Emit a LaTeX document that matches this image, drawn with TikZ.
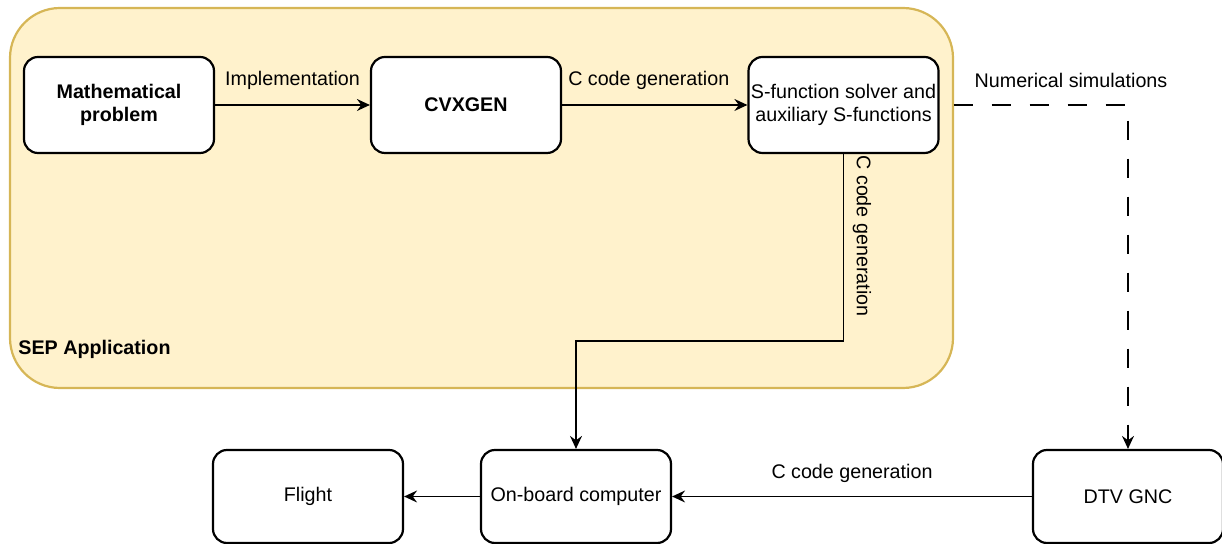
\documentclass[tikz,border=0pt]{standalone}
\usepackage{fontspec}
\setmainfont{Liberation Sans}
\usetikzlibrary{arrows.meta}
\definecolor{sepfill}{HTML}{FFF2CC}
\definecolor{sepdraw}{HTML}{D6B656}
\begin{document}
\begin{tikzpicture}[x=0.5pt,y=-0.5pt,
  txt/.style={font=\fontsize{9.85}{11.5}\selectfont},
  box/.style={txt, draw, line width=1.1pt, rounded corners=7pt, fill=white,
    minimum width=95pt, minimum height=48pt, align=center, inner sep=1pt},
  lowbox/.style={box, minimum height=46.5pt},
  conn/.style={line width=0.65pt, -{Stealth[length=6.5pt,width=6pt,inset=2.2pt]}},
  dconn/.style={conn, dash pattern=on 9.5pt off 9.5pt, dash phase=-7pt},
  lbl/.style={txt, inner sep=0pt},
  container/.style={draw=sepdraw, fill=sepfill, line width=1.1pt, rounded corners=25pt,
    minimum width=471.5pt, minimum height=190pt, inner sep=0pt}
]
\useasboundingbox (0,0) rectangle (1222,544);
\node[container] (sep) at (481.5,198) {};
\node[lbl, font=\fontsize{9.85}{11.5}\selectfont\bfseries, anchor=west] (seplbl) at (18,349) {SEP Application};

\node[box, font=\fontsize{9.85}{11.5}\selectfont\bfseries] (math) at (119,105) {Mathematical\\problem};
\node[box, font=\fontsize{9.85}{11.5}\selectfont\bfseries] (cvx) at (466,105) {CVXGEN};
\node[box] (sfun) at (843.5,105) {S-function solver and\\auxiliary S-functions};

\node[lowbox] (flight) at (308,496.5) {Flight};
\node[lowbox] (obc) at (576,496.5) {On-board computer};
\node[lowbox] (dtv) at (1128,496.5) {DTV GNC};

\draw[conn] (math) -- (cvx) node[lbl, midway, yshift=12.5pt] {Implementation};
\draw[conn] (cvx) -- (sfun) node[lbl, midway, yshift=12.5pt, xshift=-3pt] {C code generation};
\draw[conn] (sfun.south) -- ++(0,187) -| (obc.north);
\node[lbl, rotate=-90] (vlbl) at (862,236) {C code generation};
\draw[dconn] (sfun.east) -| (dtv.north);
\node[lbl] (numlbl) at (1071,80) {Numerical simulations};
\draw[conn] (obc) -- (flight);
\draw[conn] (dtv) -- (obc) node[lbl, midway, yshift=11.5pt] {C code generation};
\end{tikzpicture}
\end{document}
